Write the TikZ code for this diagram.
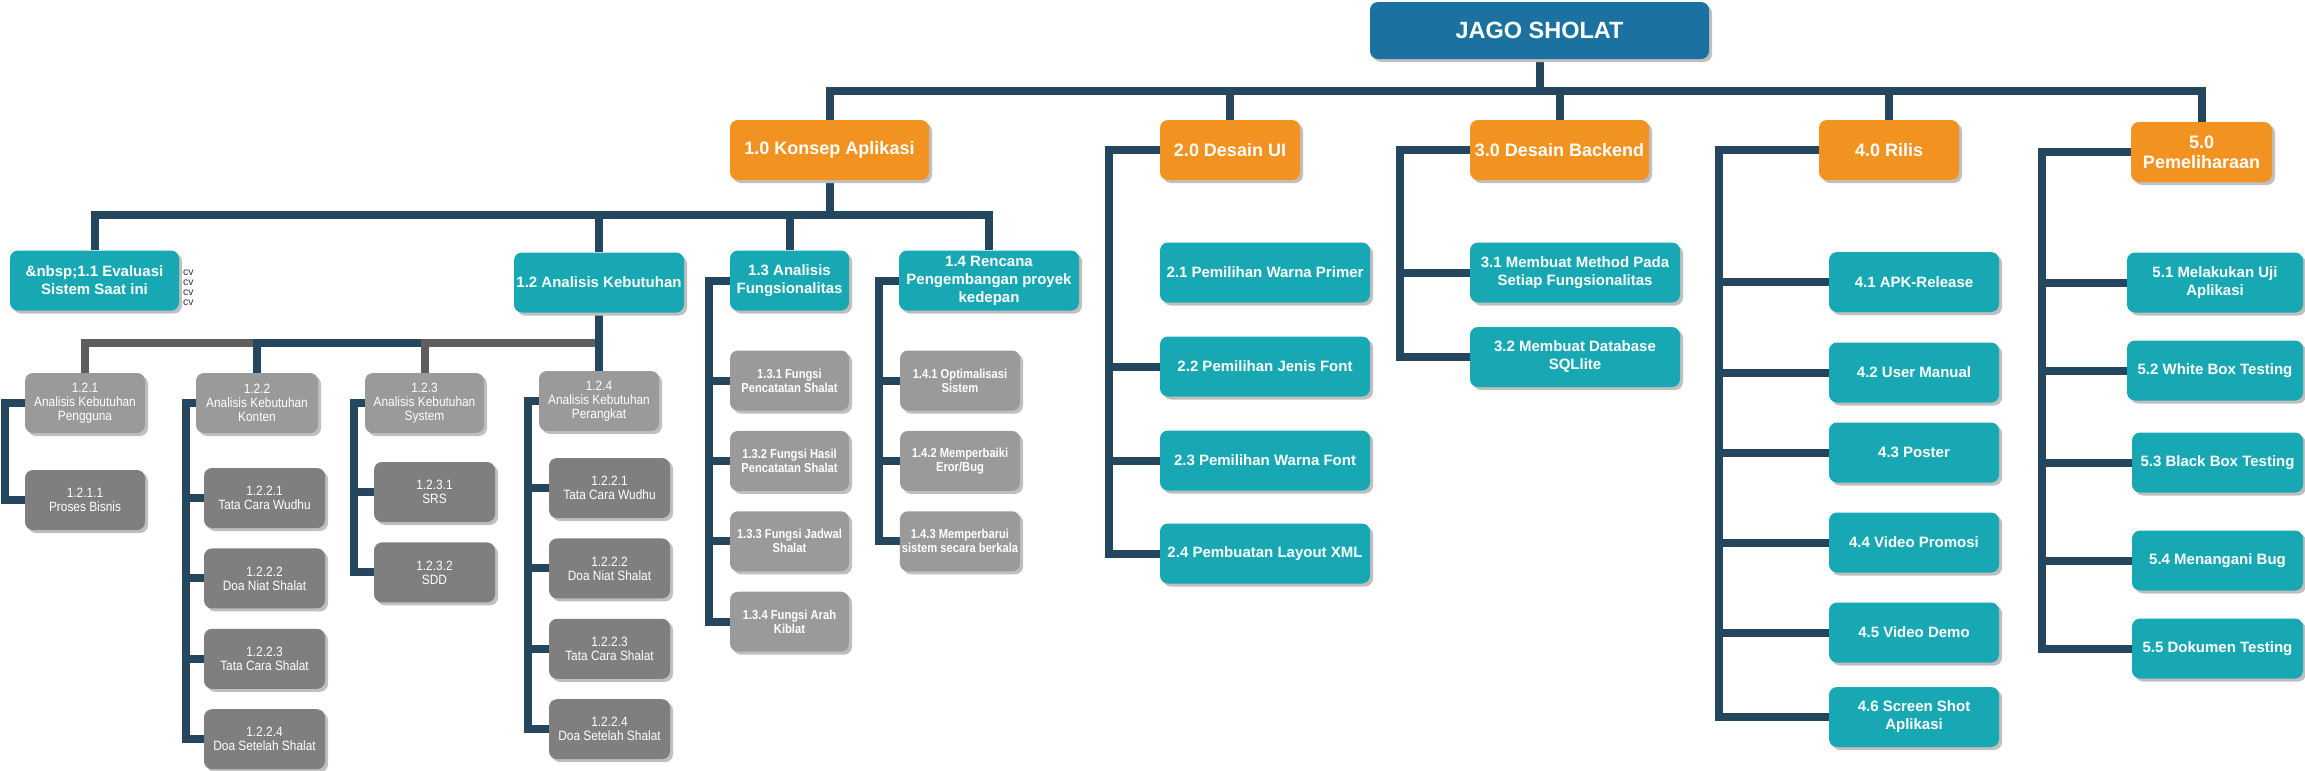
\documentclass[tikz,border=0pt]{standalone}
\usepackage{fontspec}
\setmainfont{Liberation Sans}
\newfontfamily\narrowfont[FakeStretch=0.88]{Liberation Sans}
\newfontfamily\condfont[FakeStretch=0.86]{Liberation Sans}
\usetikzlibrary{positioning,shadows,backgrounds}
\definecolor{jsroot}{HTML}{1B72A0}
\definecolor{jsorange}{HTML}{F29321}
\definecolor{jsteal}{HTML}{17A8B4}
\definecolor{jsgrey}{HTML}{9A9A9A}
\definecolor{jsdark}{HTML}{7F7F7F}
\definecolor{jsnavy}{HTML}{25465F}
\definecolor{jsline}{HTML}{5E5E5E}
\tikzset{
  box/.style={rounded corners=8pt,text=white,align=center,inner sep=2pt,
              drop shadow={shadow xshift=3pt,shadow yshift=-3pt,fill=black!25,opacity=1}},
  wd/.style={minimum width=#1},
  rootbox/.style={box,fill=jsroot,minimum height=57pt,font=\bfseries\fontsize{23.5}{26}\selectfont},
  phase/.style={box,fill=jsorange,minimum height=60pt,font=\bfseries\fontsize{18}{20}\selectfont},
  task/.style={box,fill=jsteal,minimum height=60pt,font=\bfseries\fontsize{15}{18}\selectfont},
  sub/.style={box,fill=jsgrey,minimum height=60pt,font=\narrowfont\fontsize{13.5}{14}\selectfont},
  leaf/.style={sub,fill=jsdark},
  act/.style={box,fill=jsgrey,minimum height=60pt,font=\condfont\bfseries\fontsize{13}{14}\selectfont},
  link/.style={line width=8pt,jsnavy},
  glink/.style={line width=8pt,jsline},
  note/.style={font=\fontsize{10.5}{10}\selectfont,text=black!80,align=left,inner sep=0pt},
}
\begin{document}
\begin{tikzpicture}[x=1pt,y=-1pt]
    \useasboundingbox (0,0) rectangle (2305,771);
    \node[rootbox,wd=339pt] (root) at (1539.5,30.5) {JAGO SHOLAT};
    \node[phase,wd=199pt] (k1) at (829.5,150) {1.0 Konsep Aplikasi};
    \node[phase,wd=140pt] (k2) at (1230,150) {2.0 Desain UI};
    \node[phase,wd=179pt] (k3) at (1559.5,150) {3.0 Desain Backend};
    \node[phase,wd=140pt] (k4) at (1889,150) {4.0 Rilis};
    \node[phase,wd=141pt] (k5) at (2201.5,152) {5.0\\Pemeliharaan};

    \node[task,wd=169pt] (a1) at (94.5,280.5) {\&nbsp;1.1 Evaluasi\\Sistem Saat ini};
    \node[note,anchor=west] (cv) at (183,288) {cv\\cv\\cv\\cv};
    \node[task,wd=170pt] (a2) at (599,282.5) {1.2 Analisis Kebutuhan};
    \node[task,wd=119pt] (a3) at (789.5,280.5) {1.3 Analisis\\Fungsionalitas};
    \node[task,wd=180pt] (a4) at (989,280.5) {1.4 Rencana\\Pengembangan proyek\\kedepan};

    \node[sub,wd=120pt] (b1) at (85,403) {1.2.1\\Analisis Kebutuhan\\Pengguna};
    \node[sub,wd=122pt] (b2) at (257,403) {1.2.2\\Analisis Kebutuhan\\Konten};
    \node[sub,wd=119pt] (b3) at (424.5,403) {1.2.3\\Analisis Kebutuhan\\System};
    \node[sub,wd=120pt] (b4) at (599,401) {1.2.4\\Analisis Kebutuhan\\Perangkat};

    \node[leaf,wd=120pt] (c11) at (85,500) {1.2.1.1\\Proses Bisnis};
    \node[leaf,wd=121pt] (c21) at (264.5,498) {1.2.2.1\\Tata Cara Wudhu};
    \node[leaf,wd=121pt,below=20pt of c21] (c22) {1.2.2.2\\Doa Niat Shalat};
    \node[leaf,wd=121pt,below=20pt of c22] (c23) {1.2.2.3\\Tata Cara Shalat};
    \node[leaf,wd=121pt,below=20pt of c23] (c24) {1.2.2.4\\Doa Setelah Shalat};
    \node[leaf,wd=121pt] (c31) at (434.5,492) {1.2.3.1\\SRS};
    \node[leaf,wd=121pt,below=20pt of c31] (c32) {1.2.3.2\\SDD};
    \node[leaf,wd=121pt] (d1) at (609.5,488) {1.2.2.1\\Tata Cara Wudhu};
    \node[leaf,wd=121pt,below=20pt of d1] (d2) {1.2.2.2\\Doa Niat Shalat};
    \node[leaf,wd=121pt,below=20pt of d2] (d3) {1.2.2.3\\Tata Cara Shalat};
    \node[leaf,wd=121pt,below=20pt of d3] (d4) {1.2.2.4\\Doa Setelah Shalat};

    \node[act,wd=119pt] (e1) at (789.5,380.5) {1.3.1 Fungsi\\Pencatatan Shalat};
    \node[act,wd=119pt,below=20pt of e1] (e2) {1.3.2 Fungsi Hasil\\Pencatatan Shalat};
    \node[act,wd=119pt,below=20pt of e2] (e3) {1.3.3 Fungsi Jadwal\\Shalat};
    \node[act,wd=119pt,below=20pt of e3] (e4) {1.3.4 Fungsi Arah\\Kiblat};
    \node[act,wd=120pt] (f1) at (960,380.5) {1.4.1 Optimalisasi\\Sistem};
    \node[act,wd=120pt,below=20pt of f1] (f2) {1.4.2 Memperbaiki\\Eror/Bug};
    \node[act,wd=120pt,below=20pt of f2] (f3) {1.4.3 Memperbarui\\sistem secara berkala};

    \node[task,wd=210pt] (g1) at (1265,272.5) {2.1 Pemilihan Warna Primer};
    \node[task,wd=210pt] (g2) at (1265,366.5) {2.2 Pemilihan Jenis Font};
    \node[task,wd=210pt] (g3) at (1265,460.5) {2.3 Pemilihan Warna Font};
    \node[task,wd=210pt] (g4) at (1265,553.5) {2.4 Pembuatan Layout XML};

    \node[task,wd=210pt] (h1) at (1575,272.5) {3.1 Membuat Method Pada\\Setiap Fungsionalitas};
    \node[task,wd=210pt] (h2) at (1575,357) {3.2 Membuat Database\\SQLlite};

    \node[task,wd=170pt] (i1) at (1914,282) {4.1 APK-Release};
    \node[task,wd=170pt] (i2) at (1914,372.5) {4.2 User Manual};
    \node[task,wd=170pt] (i3) at (1914,452.5) {4.3 Poster};
    \node[task,wd=170pt] (i4) at (1914,542.5) {4.4 Video Promosi};
    \node[task,wd=170pt] (i5) at (1914,632.5) {4.5 Video Demo};
    \node[task,wd=170pt] (i6) at (1914,717) {4.6 Screen Shot\\Aplikasi};

    \node[task,wd=176pt] (j1) at (2215,282.5) {5.1 Melakukan Uji\\Aplikasi};
    \node[task,wd=176pt] (j2) at (2215,370.5) {5.2 White Box Testing};
    \node[task,wd=171pt] (j3) at (2217.5,462.5) {5.3 Black Box Testing};
    \node[task,wd=171pt] (j4) at (2217.5,560.5) {5.4 Menangani Bug};
    \node[task,wd=171pt] (j5) at (2217.5,648.5) {5.5 Dokumen Testing};

    \begin{scope}[on background layer]
      \foreach \k in {k1,k2,k3,k4,k5} \draw[link] (root.south) -- ++(0,32) -| (\k.north);
      \foreach \a in {a1,a2,a3,a4} \draw[link] (k1.south) -- ++(0,35) -| (\a.north);
      \draw[glink] (a2.south) -- ++(0,30) -| (b1.north);
      \draw[link] (a2.south) -- ++(0,30) -| (b2.north);
      \draw[glink] (a2.south) -- ++(0,30) -| (b3.north);
      \draw[link] (a2.south) -- (b4.north);
      \draw[link] (b1.west) -- ++(-20,0) |- (c11.west);
      \foreach \c in {c21,c22,c23,c24} \draw[link] (b2.west) -- ++(-10,0) |- (\c.west);
      \foreach \c in {c31,c32} \draw[link] (b3.west) -- ++(-11,0) |- (\c.west);
      \foreach \c in {d1,d2,d3,d4} \draw[link] (b4.west) -- ++(-11,0) |- (\c.west);
      \foreach \c in {e1,e2,e3,e4} \draw[link] (a3.west) -- ++(-21,0) |- (\c.west);
      \foreach \c in {f1,f2,f3} \draw[link] (a4.west) -- ++(-20,0) |- (\c.west);
      \foreach \c in {g2,g3,g4} \draw[link] (k2.west) -- ++(-51,0) |- (\c.west);
      \foreach \c in {h1,h2} \draw[link] (k3.west) -- ++(-70,0) |- (\c.west);
      \foreach \c in {i1,i2,i3,i4,i5,i6} \draw[link] (k4.west) -- ++(-100,0) |- (\c.west);
      \foreach \c in {j1,j2,j3,j4,j5} \draw[link] (k5.west) -- ++(-89,0) |- (\c.west);
    \end{scope}
  \end{tikzpicture}
\end{document}
